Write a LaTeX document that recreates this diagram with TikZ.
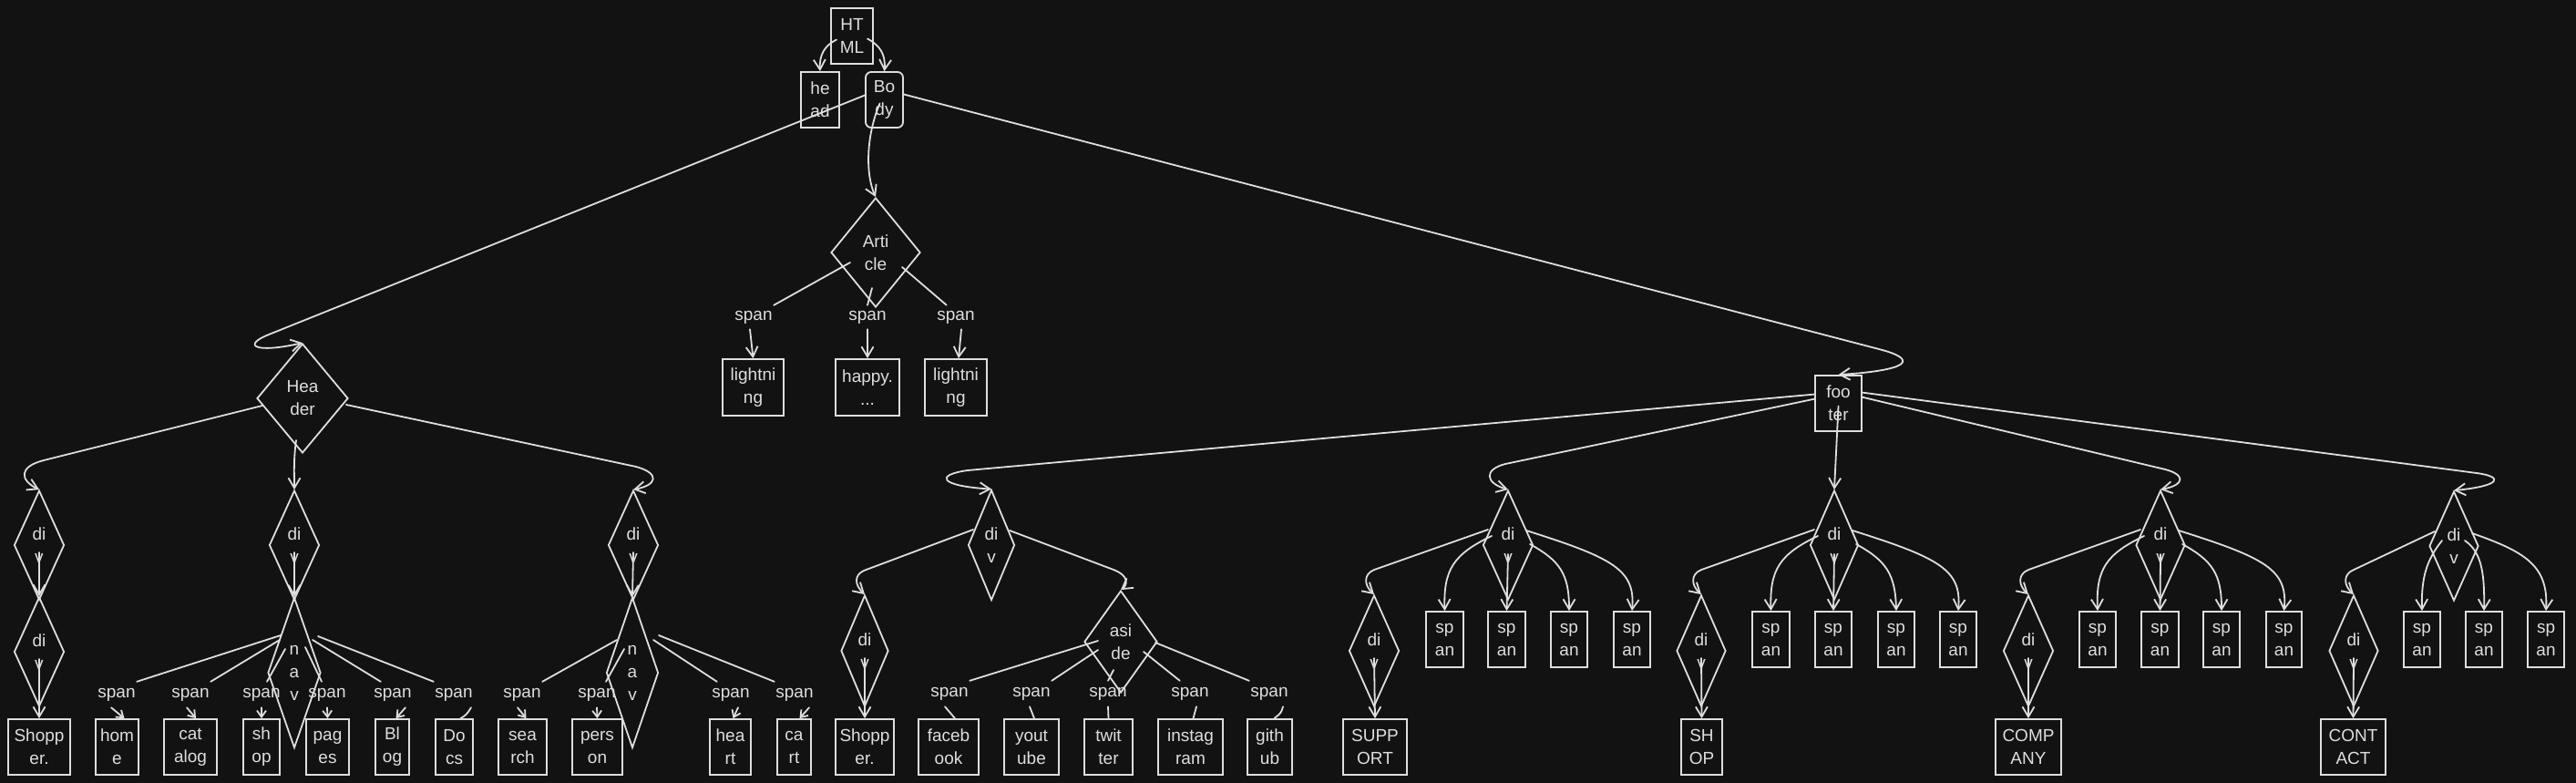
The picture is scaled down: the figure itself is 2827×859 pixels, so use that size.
\documentclass[tikz,border=0pt]{standalone}
\usepackage{fontspec}
\setmainfont{Liberation Sans}
\usetikzlibrary{shapes.geometric,arrows.meta,calc}
\definecolor{bg}{HTML}{121212}
\definecolor{fg}{HTML}{DEDEDE}
\newcommand{\tx}{\fontsize{19}{25}\selectfont}
\newcommand{\fgrp}[7]{%
 \draw[arr] ($(#1)+(-22,-17)$) -- ($(#2.north)+(0,-27)$) .. controls ($(#2.north)+(-12,-22)$) and ($(#2.north)+(-11,-10)$) .. (#2.north);
 \draw[arr] ($(#2)+(0,8)$) -- (#3.north);
 \draw[arr] ($(#1)+(-18,-10)$) .. controls ($(#1)+(-60,10)$) and ($(#1)+(-71,27)$) .. (#4.north);
 \draw[arr] ($(#1)+(0,10)$) -- (#5.north);
 \draw[arr] ($(#1)+(24,-1)$) .. controls ($(#1)+(57,17)$) and ($(#1)+(67,32)$) .. (#6.north);
 \draw[arr] ($(#1)+(20,-16)$) .. controls ($(#1)+(115,14)$) and ($(#1)+(140,27)$) .. (#7.north);
}
\begin{document}
\begin{tikzpicture}[x=1pt,y=-1pt,
 ln/.style={draw=fg, line width=1.8pt, line cap=round, line join=round},
 arr/.style={ln, -{Straight Barb[length=11pt,width=13pt]}},
 sarr/.style={ln, -{Straight Barb[length=7pt,width=10pt]}},
 bx/.style={draw=fg, line width=1.8pt, text=fg, align=center, inner sep=0pt, font=\tx, minimum height=61pt},
 bw/.style={bx, minimum width=#1},
 dm/.style n args={3}{diamond, draw=fg, line width=1.8pt, inner sep=0pt, minimum width=#1, minimum height=#2,
   label={[text=fg,font=\tx,align=center,inner sep=0pt]center:{#3}}},
 sp/.style={text=fg, font=\tx, inner sep=0pt, minimum height=28pt, minimum width=44pt}
]
\fill[bg] (0,0) rectangle (2827,859);
\useasboundingbox (0,0) rectangle (2827,859);

% top
\node[bw=46pt] (html) at (935,39.5) {HT\\ML};
\node[bw=42pt] (head) at (900,109.5) {he\\ad};
\node[bw=41pt, rounded corners=6pt] (body) at (970.5,109.5) {Bo\\dy};

% header, article, footer
\node[dm={100pt}{120pt}{Hea\\der}] (hdr) at (332,437) {};
\node[dm={98pt}{120pt}{Arti\\cle}] (art) at (961,277) {};
\node[bw=51pt] (ftr) at (2017.5,442.5) {foo\\ter};

% article children
\node[sp, minimum height=26pt] (sa1) at (827,348) {span};
\node[sp, minimum height=26pt] (sa2) at (952,348) {span};
\node[sp, minimum height=26pt] (sa3) at (1049,348) {span};
\node[bw=67pt, minimum height=62pt] (ba1) at (826.5,425) {lightni\\ng};
\node[bw=70pt, minimum height=62pt] (ba2) at (952,425) {happy.\\...};
\node[bw=68pt, minimum height=62pt] (ba3) at (1049,425) {lightni\\ng};

% header children
\node[dm={55pt}{120pt}{di\\v}] (h1) at (43,598) {};
\node[dm={55pt}{120pt}{di\\v}] (h1b) at (43,715) {};
\node[bw=68pt] (shp1) at (43,819.5) {Shopp\\er.};
\node[dm={55pt}{120pt}{di\\v}] (h2) at (323,598) {};
\node[dm={58pt}{165pt}{n\\a\\v}] (nav1) at (323,738) {};
\node[dm={55pt}{120pt}{di\\v}] (h3) at (695,598) {};
\node[dm={57pt}{165pt}{n\\a\\v}] (nav2) at (694,738) {};

\node[sp] (n1s1) at (128,762) {span};
\node[sp] (n1s2) at (209,762) {span};
\node[sp] (n1s3) at (287,762) {span};
\node[sp] (n1s4) at (359,762) {span};
\node[sp] (n1s5) at (431,762) {span};
\node[sp] (n1s6) at (498,762) {span};
\node[bw=47pt] (n1b1) at (128.5,819.5) {hom\\e};
\node[bw=58pt] (n1b2) at (209,819.5) {cat\\alog};
\node[bw=40pt] (n1b3) at (287,819.5) {sh\\op};
\node[bw=47pt] (n1b4) at (359.5,819.5) {pag\\es};
\node[bw=37pt] (n1b5) at (430.5,819.5) {Bl\\og};
\node[bw=41pt] (n1b6) at (498.5,819.5) {Do\\cs};

\node[sp] (m2s1) at (573,762) {span};
\node[sp] (m2s2) at (655,762) {span};
\node[sp] (m2s3) at (802,762) {span};
\node[sp] (m2s4) at (872,762) {span};
\node[bw=53pt] (m2b1) at (573.5,819.5) {sea\\rch};
\node[bw=55pt] (m2b2) at (655.5,819.5) {pers\\on};
\node[bw=45pt] (m2b3) at (801.5,819.5) {hea\\rt};
\node[bw=37pt] (m2b4) at (871.5,819.5) {ca\\rt};

% footer children
\node[dm={51pt}{121pt}{di\\v}] (fa) at (1088,598) {};
\node[dm={52pt}{122pt}{di\\v}] (fa1) at (949,714) {};
\node[bw=64pt] (shp2) at (949,819.5) {Shopp\\er.};
\node[dm={80pt}{112pt}{asi\\de}] (asd) at (1230,704) {};
\node[sp] (as1) at (1042,761) {span};
\node[sp] (as2) at (1132,761) {span};
\node[sp] (as3) at (1216,761) {span};
\node[sp] (as4) at (1306,761) {span};
\node[sp] (as5) at (1393,761) {span};
\node[bw=66pt] (ab1) at (1041,819.5) {faceb\\ook};
\node[bw=60pt] (ab2) at (1132,819.5) {yout\\ube};
\node[bw=53pt] (ab3) at (1216.5,819.5) {twit\\ter};
\node[bw=71pt] (ab4) at (1306.5,819.5) {instag\\ram};
\node[bw=49pt] (ab5) at (1393.5,819.5) {gith\\ub};

\node[dm={55pt}{120pt}{di\\v}] (fb) at (1655,598) {};
\node[dm={55pt}{122pt}{di\\v}] (fb1) at (1508,714) {};
\node[bw=70pt] (sup) at (1509,819.5) {SUPP\\ORT};
\node[bw=41pt] (fbs1) at (1585.5,701.5) {sp\\an};
\node[bw=41pt] (fbs2) at (1653.5,701.5) {sp\\an};
\node[bw=40pt] (fbs3) at (1722,701.5) {sp\\an};
\node[bw=40pt] (fbs4) at (1791,701.5) {sp\\an};

\node[dm={53pt}{120pt}{di\\v}] (fc) at (2013,598) {};
\node[dm={54pt}{122pt}{di\\v}] (fc1) at (1867,714) {};
\node[bw=45pt] (shop) at (1867.5,819.5) {SH\\OP};
\node[bw=41pt] (fcs1) at (1943.5,701.5) {sp\\an};
\node[bw=40pt] (fcs2) at (2012,701.5) {sp\\an};
\node[bw=40pt] (fcs3) at (2081,701.5) {sp\\an};
\node[bw=40pt] (fcs4) at (2149,701.5) {sp\\an};

\node[dm={54pt}{120pt}{di\\v}] (fd) at (2371,598) {};
\node[dm={55pt}{122pt}{di\\v}] (fd1) at (2226,714) {};
\node[bw=72pt] (comp) at (2226,819.5) {COMP\\ANY};
\node[bw=40pt] (fds1) at (2302,701.5) {sp\\an};
\node[bw=41pt] (fds2) at (2370.5,701.5) {sp\\an};
\node[bw=40pt] (fds3) at (2438,701.5) {sp\\an};
\node[bw=39pt] (fds4) at (2506.5,701.5) {sp\\an};

\node[dm={54pt}{120pt}{di\\v}] (fe) at (2693,599) {};
\node[dm={54pt}{122pt}{di\\v}] (fe1) at (2583,714) {};
\node[bw=71pt] (cont) at (2582.5,819.5) {CONT\\ACT};
\node[bw=40pt] (fes1) at (2658,701.5) {sp\\an};
\node[bw=40pt] (fes2) at (2726,701.5) {sp\\an};
\node[bw=40pt] (fes3) at (2794,701.5) {sp\\an};

% ---------- connectors ----------
\draw[arr] ($(html)+(-17,4)$) .. controls (905,50) and (899,60) .. (head.north);
\draw[arr] ($(html)+(17,3)$) .. controls (966,50) and (972,60) .. (body.north);
\draw[arr] ($(body.west)+(0,-5)$) -- (295,367) .. controls (265,379) and (280,388) .. (hdr.north);
\draw[arr] ($(body)+(-5,4)$) .. controls (950,150) and (950,192) .. (art.north);
\draw[arr] ($(body.east)+(0,-6)$) -- (2062,383) .. controls (2105,394) and (2098,406) .. (ftr.north);

% article
\draw[ln] ($(art)+(-28,11)$) -- (sa1.north east);
\draw[ln] ($(art)+(-4,39)$) -- (sa2.north);
\draw[ln] ($(art)+(29,16)$) -- ([xshift=12pt]sa3.north west);
\draw[arr] ([xshift=-4pt]sa1.south) -- (ba1.north);
\draw[arr] (sa2.south) -- (ba2.north);
\draw[arr] ([xshift=6pt]sa3.south) -- ([xshift=3pt]ba3.north);

% header
\draw[arr] ($(hdr)+(-44,8)$) -- (48,505) .. controls (20,512) and (22,527) .. (h1.north);
\draw[arr] ($(hdr)+(-7,46)$) .. controls (322,505) and (323,520) .. (h2.north);
\draw[arr] ($(hdr)+(48,7)$) -- (698,512) .. controls (724,519) and (722,532) .. (h3.north);
\draw[arr] ($(h1)+(0,8)$) -- (h1b.north);
\draw[arr] ($(h1b)+(0,8)$) -- (shp1.north);
\draw[arr] ($(h2)+(0,8)$) -- (nav1.north);
\draw[arr] ($(h3)+(0,8)$) -- (nav2.north);

% nav 1
\draw[ln] ($(nav1)+(-15,-41)$) -- (n1s1.north east);
\draw[ln] ($(nav1)+(-16,-36)$) -- (n1s2.north east);
\draw[ln] ($(nav1)+(-10,-26)$) -- ([xshift=6pt]n1s3.north);
\draw[ln] ($(nav1)+(12,-28)$) -- ([xshift=-6pt]n1s4.north);
\draw[ln] ($(nav1)+(20,-36)$) -- ([xshift=9pt]n1s5.north west);
\draw[ln] ($(nav1)+(26,-40)$) -- (n1s6.north west);
\draw[sarr] ([xshift=-6pt]n1s1.south) -- ([xshift=8pt]n1b1.north);
\draw[sarr] ([xshift=-4pt]n1s2.south) -- ([xshift=6pt]n1b2.north);
\draw[sarr] (n1s3.south) -- (n1b3.north);
\draw[sarr] (n1s4.south) -- (n1b4.north);
\draw[sarr] ([xshift=14pt]n1s5.south) -- ([xshift=4pt]n1b5.north);
\draw[ln] ([xshift=19pt]n1s6.south) .. controls (512,784) .. ([xshift=7pt]n1b6.north);

% nav 2
\draw[ln] ($(nav2)+(-17,-36)$) -- (m2s1.north east);
\draw[ln] ($(nav2)+(-9,-26)$) -- ([xshift=10pt]m2s2.north);
\draw[ln] ($(nav2)+(23,-36)$) -- ([xshift=7pt]m2s3.north west);
\draw[ln] ($(nav2)+(29,-41)$) -- (m2s4.north west);
\draw[sarr] ([xshift=-5pt]m2s1.south) -- ([xshift=4pt]m2b1.north);
\draw[sarr] (m2s2.south) -- (m2b2.north);
\draw[sarr] ([xshift=8pt]m2s3.south) -- ([xshift=3pt]m2b3.north);
\draw[sarr] ([xshift=16pt]m2s4.south) -- ([xshift=6pt]m2b4.north);

% footer
\draw[arr] ($(ftr)+(-25.5,-10)$) -- (1062,516) .. controls (1026,521) and (1030,533) .. (fa.north);
\draw[arr] ($(ftr)+(-25.5,-5)$) -- (1652,509) .. controls (1628,515) and (1630,530) .. (fb.north);
\draw[arr] ($(ftr)+(0,3)$) -- (fc.north);
\draw[arr] ($(ftr)+(25.5,-7)$) -- (2372,514) .. controls (2400,520) and (2398,532) .. (fd.north);
\draw[arr] ($(ftr)+(25.5,-12)$) -- (2718,519) .. controls (2748,523) and (2745,533) .. (fe.north);

% footer div A
\draw[arr] ($(fa)+(-20,-17)$) -- (948,626) .. controls (937,631) and (938,642) .. (fa1.north);
\draw[arr] ($(fa)+(20,-16)$) -- (1222,625) .. controls (1240,632) and (1237,642) .. (asd.north);
\draw[arr] ($(fa1)+(0,8)$) -- (shp2.north);
\draw[ln] ($(asd)+(-25,-1)$) -- (as1.north east);
\draw[ln] ($(asd)+(-25,9)$) -- (as2.north east);
\draw[ln] ($(asd)+(-8,31)$) -- (as3.north);
\draw[ln] ($(asd)+(25,11)$) -- ([xshift=11pt]as4.north west);
\draw[ln] ($(asd)+(38,1)$) -- (as5.north west);
\draw[ln] ([xshift=-5pt]as1.south) -- ([xshift=7pt]ab1.north);
\draw[ln] ([xshift=-2pt]as2.south) -- ([xshift=3pt]ab2.north);
\draw[ln] (as3.south) -- (ab3.north);
\draw[ln] ([xshift=7pt]as4.south) -- ([xshift=3pt]ab4.north);
\draw[ln] ([xshift=15pt]as5.south) .. controls (1406,782) .. ([xshift=5pt]ab5.north);

% footer divs B, C, D
\fgrp{fb}{fb1}{sup}{fbs1}{fbs2}{fbs3}{fbs4}
\fgrp{fc}{fc1}{shop}{fcs1}{fcs2}{fcs3}{fcs4}
\fgrp{fd}{fd1}{comp}{fds1}{fds2}{fds3}{fds4}

% footer div E
\draw[arr] ($(fe)+(-21,-16)$) -- ($(fe1.north)+(0,-27)$) .. controls ($(fe1.north)+(-12,-22)$) and ($(fe1.north)+(-11,-10)$) .. (fe1.north);
\draw[arr] ($(fe1)+(0,8)$) -- (cont.north);
\draw[arr] ($(fe)+(-13,-6)$) .. controls ($(fe)+(-30,15)$) and ($(fe)+(-36,35)$) .. (fes1.north);
\draw[arr] ($(fe)+(12,-6)$) .. controls ($(fe)+(29,6)$) and ($(fe)+(34,26)$) .. (fes2.north);
\draw[arr] ($(fe)+(20,-14)$) .. controls ($(fe)+(77,6)$) and ($(fe)+(104,21)$) .. (fes3.north);
\end{tikzpicture}
\end{document}
